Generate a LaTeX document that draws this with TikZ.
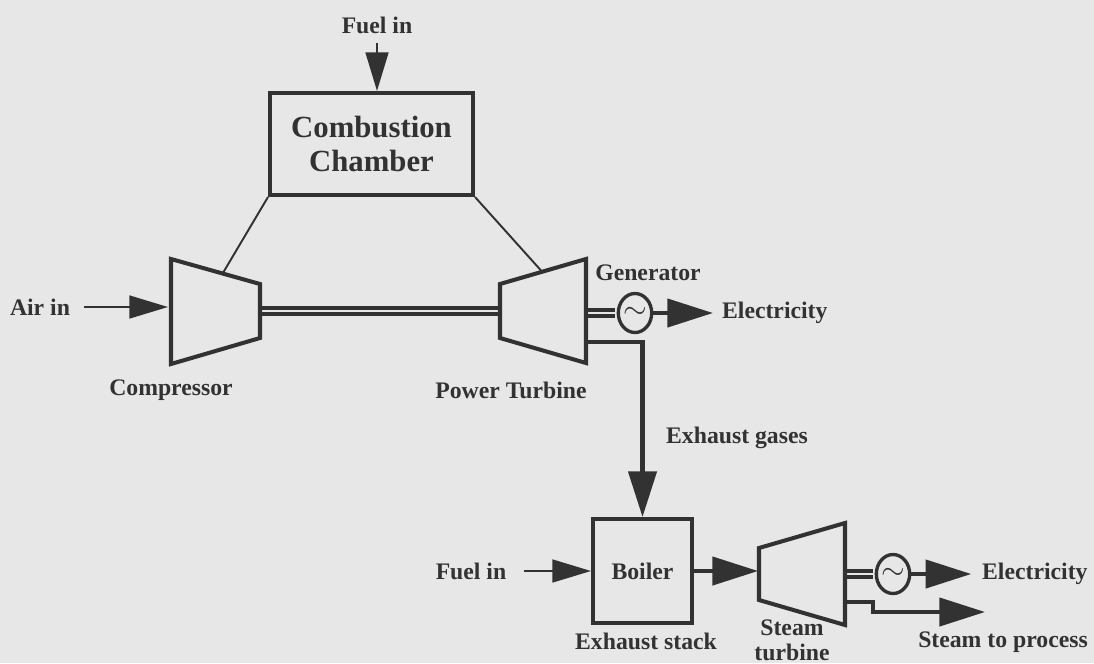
\documentclass[tikz,border=0pt]{standalone}
\usepackage{fontspec}
\setmainfont{Liberation Serif}
\usepackage{tikz}
\usetikzlibrary{arrows.meta, positioning, shapes.geometric, calc}
\definecolor{paper}{RGB}{231,231,231}
\definecolor{ink}{RGB}{50,50,50}

\begin{document}
\begin{tikzpicture}[
    x=0.02cm, y=-0.02cm,
    color=ink,
    unit/.style={rectangle, draw, line width=2.3pt, inner sep=0pt},
    casing/.style={draw, line width=2.3pt, line join=miter},
    gen/.style={ellipse, draw, line width=1.9pt, minimum width=0.66cm, minimum height=0.78cm, inner sep=0pt, font=\LARGE},
    lbl/.style={font=\fontsize{13.5}{14.2}\selectfont\bfseries, inner sep=1pt},
    chambertext/.style={font=\fontsize{17.5}{19.5}\selectfont\bfseries, align=center},
    feed/.style={-{Triangle[length=22pt, width=13pt]}, line width=1.2pt},
    flow/.style={-{Triangle[length=26pt, width=16pt]}, line width=2.3pt},
    tie/.style={line width=1.1pt},
    shaft/.style={double=paper, double distance=1.6pt, line width=1.9pt}
]
    \fill[paper] (0,0) rectangle (1094,663);
    \useasboundingbox (0,0) rectangle (1094,663);

    % Gas turbine set (top)
    \node[unit, chambertext, minimum width=4.06cm, minimum height=2.04cm] (chamber) at (371.5,144) {Combustion\\Chamber};
    \node[lbl] (fuel1) at (377,25) {Fuel in};
    \node[lbl] (airin) at (40,307) {Air in};
    \node[gen] (gen1) at (635,313) {$\sim$};
    \node[lbl] (generator) at (648,273) {Generator};
    \node[lbl, anchor=west] (elec1) at (720,313) {Electricity};
    \node[lbl] (compressor) at (171,390) {Compressor};
    \node[lbl] (powerturb) at (511,390) {Power Turbine};
    \node[lbl] (exhgas) at (737,438) {Exhaust gases};

    % Steam side (bottom)
    \node[unit, lbl, minimum width=1.98cm, minimum height=2.08cm] (boiler) at (642.5,571) {Boiler};
    \node[lbl] (fuel2) at (471,571) {Fuel in};
    \node[lbl] (stack) at (646,641) {Exhaust stack};
    \node[gen] (gen2) at (893,574) {$\sim$};
    \node[lbl, anchor=west] (elec2) at (980,574) {Electricity};
    \node[lbl, align=center] (steamturb) at (792,640) {Steam\\turbine};
    \node[lbl] (process) at (1003,642) {Steam to process};

    % Shaft and pipe ends
    \coordinate (cmp-in) at (168,307);
    \coordinate (cmp-out) at (260,311);
    \coordinate (pt-in) at (500,311);
    \coordinate (pt-out) at (586,313);
    \coordinate (pt-exh) at (586,342);
    \coordinate (st-in) at (758,571);
    \coordinate (st-out) at (845,574);
    \coordinate (st-exh) at (845,602);
    \coordinate (proc-end) at (985,612);

    % Shafts
    \draw[shaft] (cmp-out) -- (pt-in);
    \draw[shaft, shorten >=0.95pt] (pt-out) -- (gen1.west);
    \draw[shaft, shorten >=0.95pt] (st-out) -- (gen2.west);

    % Casings
    \draw[casing] (171,259) coordinate (cmp-tl) -- (260,284) coordinate (cmp-tr) -- (260,338) -- (171,364) -- cycle;
    \draw[casing] (500,284) coordinate (pt-tl) -- (586,259) coordinate (pt-tr) -- (586,363) -- (500,338) -- cycle;
    \draw[casing] (759,548) -- (845,523) -- (845,625) -- (759,600) -- cycle;

    % Ducts to the chamber
    \draw[tie] (chamber.south west) -- ($(cmp-tl)!0.58!(cmp-tr)$);
    \draw[tie] (chamber.south east) -- ($(pt-tl)!0.49!(pt-tr)$);

    % Flows
    \draw[feed, shorten <=4pt] (fuel1.south) -- (fuel1.south |- chamber.north);
    \draw[feed, shorten <=7pt] (airin.east) -- (cmp-in);
    \draw[flow, shorten >=4pt] (gen1.east) -- (elec1.west);
    \draw[flow] (pt-exh) -| (boiler.north);
    \draw[feed, shorten <=9pt] (fuel2.east) -- (boiler.west);
    \draw[flow] (boiler.east) -- (st-in);
    \draw[flow, shorten >=5pt] (gen2.east) -- (elec2.west);
    \draw[flow] (st-exh) -- ++(28,0) |- (proc-end);
\end{tikzpicture}
\end{document}
